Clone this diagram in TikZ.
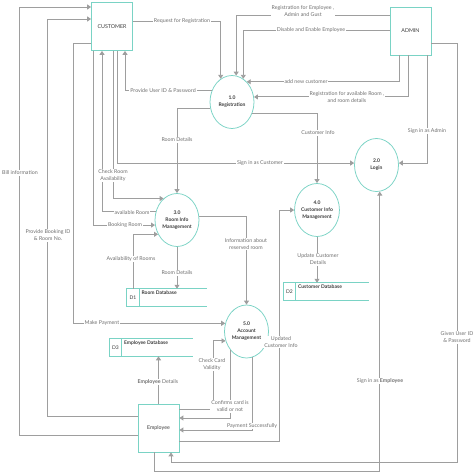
\documentclass[tikz,border=0pt]{standalone}
\usepackage{fontspec}
\setmainfont{Lato}
\usetikzlibrary{shapes.geometric,arrows.meta}

\tikzset{every picture/.style={line width=0.75pt}}
\tikzset{
  entity/.style={draw={rgb, 255:red, 122; green, 211; blue, 197}, fill=white, inner sep=0pt,
    minimum width=41pt, minimum height=48pt, text={rgb, 255:red, 60; green, 60; blue, 60},
    font=\fontsize{5.3}{7}\selectfont},
  process/.style={ellipse, draw={rgb, 255:red, 122; green, 211; blue, 197}, fill=white, inner sep=0pt,
    minimum width=44pt, minimum height=53pt, align=center, text={rgb, 255:red, 60; green, 60; blue, 60},
    font=\bfseries\fontsize{5}{7}\selectfont},
  storeid/.style={draw={rgb, 255:red, 122; green, 211; blue, 197}, line width=1.2pt, fill=white,
    inner sep=0pt, outer sep=0pt, minimum width=12.5pt, minimum height=17.5pt,
    text={rgb, 255:red, 60; green, 60; blue, 60}, font=\fontsize{5}{6}\selectfont},
  storename/.style={anchor=north west, inner sep=2pt, text={rgb, 255:red, 60; green, 60; blue, 60},
    font=\bfseries\fontsize{5}{6}\selectfont},
  storeline/.style={draw={rgb, 255:red, 122; green, 211; blue, 197}, line width=1.2pt},
  flow/.style={draw={rgb, 255:red, 158; green, 158; blue, 158}, line width=0.9pt,
    -{Triangle[length=4pt,width=5pt]}},
  flowtext/.style={fill=white, inner sep=1pt, align=center, text={rgb, 255:red, 112; green, 112; blue, 112},
    font=\fontsize{5.3}{7}\selectfont}
}

\begin{document}
\begin{tikzpicture}[x=1pt,y=1pt,yscale=-1,xscale=1]
    \useasboundingbox (0,0) rectangle (474,475);

    %Shape: Rectangle [external entities]
    \node[entity] (cust) at (112,26.5) {CUSTOMER};
    \node[entity] (admin) at (410.5,31) {ADMIN};
    \node[entity] (emp) at (158.5,428) {Employee};

    %Shape: Ellipse [processes]
    \node[process] (reg) at (232,102) {1.0\\Registration};
    \node[process] (login) at (376.5,165) {2.0\\Login};
    \node[process] (room) at (177,220) {3.0\\Room Info\\Management};
    \node[process] (cinfo) at (317,210) {4.0\\Customer Info\\Management};
    \node[process] (acct) at (246.5,331.5) {5.0\\Account\\Management};

    %Shape: Data stores
    \node[storeid] (d1) at (133,297.5) {D1};
    \draw[storeline] (d1.north west) -- ++(80,0) (d1.south west) -- ++(80,0);
    \node[storename] (roomdb) at (d1.north east) {Room Database};
    \node[storeid] (d2) at (289.5,291.5) {D2};
    \draw[storeline] (d2.north west) -- ++(86,0) (d2.south west) -- ++(86,0);
    \node[storename] (custdb) at (d2.north east) {Customer Database};
    \node[storeid] (d3) at (115.5,347.5) {D3};
    \draw[storeline] (d3.north west) -- ++(84,0) (d3.south west) -- ++(84,0);
    \node[storename] (empdb) at (d3.north east) {Employee Database};

    %Straight Lines [customer and admin to registration]
    \draw[flow] (cust.east |- 0,21) -| (reg.116);
    \draw[flow] (admin.west |- 0,15) -| (reg.81);
    \draw[flow] (admin.west |- 0,30) -| (reg.64);
    \draw[flow] (admin.south -| 399,0) |- (reg.54);
    \draw[flow] (admin.south -| 408,0) |- (reg.13);
    \draw[flow] (admin.south -| 427,0) |- (login.5);
    \draw[flow] (admin.east |- 0,43) -| (457,462) -| ([xshift=12.5pt]emp.south);
    \draw[flow] (reg.151) -| (cust.south -| 125,0);
    \draw[flow] (reg.196) -| (room.north);
    \draw[flow] (reg.331) -| (cinfo.north);
    %Straight Lines [customer and room info]
    \draw[flow] (cust.south -| 117,0) |- (login.175);
    \draw[flow] (cust.south -| 113,0) |- (room.122);
    \draw[flow] (room.159) -| (cust.south -| 102,0);
    \draw[flow] (cust.south -| 93,0) |- (room.193);
    \draw[flow] (d1.north) |- (room.217);
    \draw[flow] (room.south) -- (room.south |- d1.north);
    \draw[flow] (room.10) -| (acct.north);
    \draw[flow] (cinfo.south) -- (cinfo.south |- d2.north);
    %Straight Lines [employee and accounts]
    \draw[flow] (emp.east |- 0,441) -| ([xshift=-15pt]cinfo.west) -- (cinfo.west);
    \draw[flow] (cust.west |- 0,43) -- ++(-18,0) |- (acct.159);
    \draw[flow] (emp.east |- 0,409) -- ++(34,0) |- (acct.204);
    \draw[flow] (acct.229) |- (emp.east |- 0,418);
    \draw[flow] (acct.283) |- (emp.east |- 0,430);
    \draw[flow] (emp.north) -- (emp.north |- d3.south);
    \draw[flow] (emp.west |- 0,416) -- ++(-90,0) |- (cust.west |- 0,19);
    \draw[flow] (emp.west |- 0,435) -- ++(-118,0) |- (cust.west |- 0,7);
    \draw[flow] ([xshift=-4pt]emp.south) -- ++(0,19) -| (login.277);

    % Text Node
    \node[flowtext] (t-req) at (182,21) {Request for Registration};
    % Text Node
    \node[flowtext] (t-regemp) at (303,11) {Registration for Employee ,\\Admin and Gust};
    % Text Node
    \node[flowtext] (t-disable) at (311,30) {Disable and Enable Employee};
    % Text Node
    \node[flowtext] (t-addcust) at (306,82) {add new customer};
    % Text Node
    \node[flowtext] (t-regroom) at (347,97) {Registration for available Room ,\\and room details};
    % Text Node
    \node[flowtext] (t-admin) at (427,131) {Sign in as Admin};
    % Text Node
    \node[flowtext] (t-given) at (457,337.5) {Given User ID\\\& Password};
    % Text Node
    \node[flowtext] (t-userid) at (163,91) {Provide User ID \& Password};
    % Text Node
    \node[flowtext] (t-roomdet) at (177,140) {Room Details};
    % Text Node
    \node[flowtext] (t-custinfo) at (318,133) {Customer Info};
    % Text Node
    \node[flowtext] (t-signcust) at (260,163) {Sign in as Customer};
    % Text Node
    \node[flowtext] (t-check) at (113,175.5) {Check Room\\Availability};
    % Text Node
    \node[flowtext] (t-avail) at (132,212.5) {available Room};
    % Text Node
    \node[flowtext] (t-booking) at (125,225) {Booking Room};
    % Text Node
    \node[flowtext] (t-bill) at (20,173) {Bill information};
    % Text Node
    \node[flowtext] (t-bookid) at (48,235.5) {Provide Booking ID\\\& Room No.};
    % Text Node
    \node[flowtext] (t-availrooms) at (131,259) {Availability of Rooms};
    % Text Node
    \node[flowtext] (t-roomdb) at (177,273) {Room Details};
    % Text Node
    \node[flowtext] (t-reserved) at (246,244) {Information about\\reserved room};
    % Text Node
    \node[flowtext] (t-update) at (318,259.5) {Update Customer\\Details};
    % Text Node
    \node[flowtext] (t-updated) at (281,342) {Updated\\Customer Info};
    % Text Node
    \node[flowtext] (t-pay) at (102,323) {Make Payment};
    % Text Node
    \node[flowtext] (t-card) at (212,364.5) {Check Card\\Validity};
    % Text Node
    \node[flowtext] (t-empdet) at (158,382) {\textbf{Employee} Details};
    % Text Node
    \node[flowtext] (t-confirm) at (230,406.5) {Confirms card is\\valid or not};
    % Text Node
    \node[flowtext] (t-paid) at (252,426) {Payment Successfully};
    % Text Node
    \node[flowtext] (t-signemp) at (380,381) {Sign in as \textbf{Employee}};

\end{tikzpicture}
\end{document}
